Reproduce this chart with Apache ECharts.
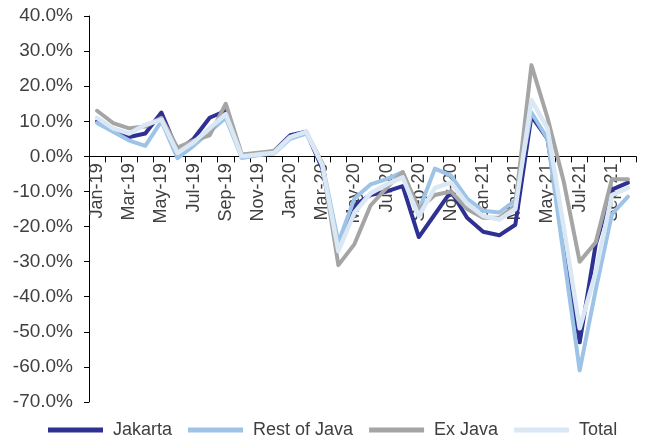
<!DOCTYPE html>
<html>
<head>
<meta charset="utf-8">
<script src="https://cdn.jsdelivr.net/npm/echarts@6/dist/echarts.min.js"></script>
<style>
  html, body { margin: 0; padding: 0; background: #fff; }
  #chart { width: 651px; height: 441px; }
</style>
</head>
<body>
<div id="chart"></div>
<script>
// Monthly categories, Jan-19 .. Oct-21
const months = [
  'Jan-19','Feb-19','Mar-19','Apr-19','May-19','Jun-19','Jul-19','Aug-19','Sep-19','Oct-19','Nov-19','Dec-19',
  'Jan-20','Feb-20','Mar-20','Apr-20','May-20','Jun-20','Jul-20','Aug-20','Sep-20','Oct-20','Nov-20','Dec-20',
  'Jan-21','Feb-21','Mar-21','Apr-21','May-21','Jun-21','Jul-21','Aug-21','Sep-21','Oct-21'
];

// Year-on-year growth, percent
const jakarta = [
  10, 7.5, 5.5, 6.5, 12.5, 1.5, 5, 11, 13, 0, 0.5, 1.5,
  6, 7, -3.5, -26, -14, -11, -10, -8.5, -23, -16.5, -10, -17.5,
  -21.5, -22.5, -19.5, 11.5, 5, -24, -53, -25, -9.5, -7.5
];
const restOfJava = [
  9.5, 7, 4.5, 3, 10, -0.5, 3, 7, 11, -0.5, 0.3, 0.8,
  5, 6.5, -2, -24.5, -12, -8, -6.5, -4.5, -15.5, -3.5, -5.5, -12,
  -15.5, -16, -12.5, 12.5, 5, -28, -61, -38, -16.5, -11.5
];
const exJava = [
  13, 9.5, 8, 8.5, 11, 2.5, 4.5, 6, 15, 0.5, 1, 1.5,
  5.5, 7, -2, -31, -25, -14, -9, -4.5, -15, -11, -10, -15,
  -17.5, -17.5, -14, 26, 11, -7, -30, -24.5, -6.5, -6.5
];
const total = [
  11, 8, 6.5, 9, 10.5, 1, 4, 8, 12, 0, 0.5, 1,
  5.5, 7, -2.5, -27, -16, -10.5, -8, -6, -17, -9, -7.5, -13.5,
  -17, -18, -15, 16, 8, -20, -49, -33, -11, -9
];

const seriesNames = ['Jakarta', 'Rest of Java', 'Ex Java', 'Total'];
const seriesColors = ['#2E3192', '#9DC3E6', '#A5A5A5', '#DAE8F5'];
const seriesData = [jakarta, restOfJava, exJava, total];

const yMin = -70, yMax = 40;
const gridTop = 16, gridBottom = 39, chartHeight = 441;

const textColor = '#404040';
const fontFamily = '"Liberation Sans", Arial, sans-serif';

// The category axis sits on the 0% line: shift it up from the grid bottom
const plotHeight = chartHeight - gridTop - gridBottom;
const zeroOffset = -plotHeight * (0 - yMin) / (yMax - yMin);

const chart = echarts.init(document.getElementById('chart'), null, { renderer: 'canvas' });

chart.setOption({
  animation: false,
  backgroundColor: '#ffffff',
  grid: { left: 89, right: 15, top: gridTop, bottom: gridBottom, containLabel: false, outerBoundsMode: 'none' },
  legend: {
    top: 416,
    left: 43,
    icon: 'rect',
    itemWidth: 55,
    itemHeight: 5,
    itemGap: 16,
    formatter: name => ' ' + name,
    textStyle: { color: textColor, fontSize: 18, fontFamily: fontFamily },
    data: seriesNames
  },
  xAxis: {
    type: 'category',
    data: months,
    boundaryGap: true,
    offset: zeroOffset,
    axisLine: { onZero: false, lineStyle: { color: '#000', width: 1 } },
    axisTick: { show: true, interval: 0, length: 6, lineStyle: { color: '#000' } },
    axisLabel: {
      interval: 1,
      rotate: 90,
      margin: 7,
      color: textColor,
      fontSize: 18,
      fontFamily: fontFamily,
      hideOverlap: false
    },
    splitLine: { show: false }
  },
  yAxis: {
    type: 'value',
    min: yMin,
    max: yMax,
    interval: 10,
    axisLine: { show: true, lineStyle: { color: '#000', width: 1 } },
    axisTick: { show: true, length: 5, lineStyle: { color: '#000' } },
    axisLabel: {
      margin: 16,
      color: textColor,
      fontSize: 19,
      fontFamily: fontFamily,
      formatter: v => v.toFixed(1) + '%'
    },
    splitLine: { show: false }
  },
  series: seriesNames.map((name, i) => ({
    name: name,
    type: 'line',
    data: seriesData[i],
    symbol: 'none',
    smooth: false,
    color: seriesColors[i],
    lineStyle: { color: seriesColors[i], width: i === 3 ? 4.5 : 4, join: 'round', cap: 'round' },
    z: 2 + i
  }))
});
</script>
</body>
</html>
